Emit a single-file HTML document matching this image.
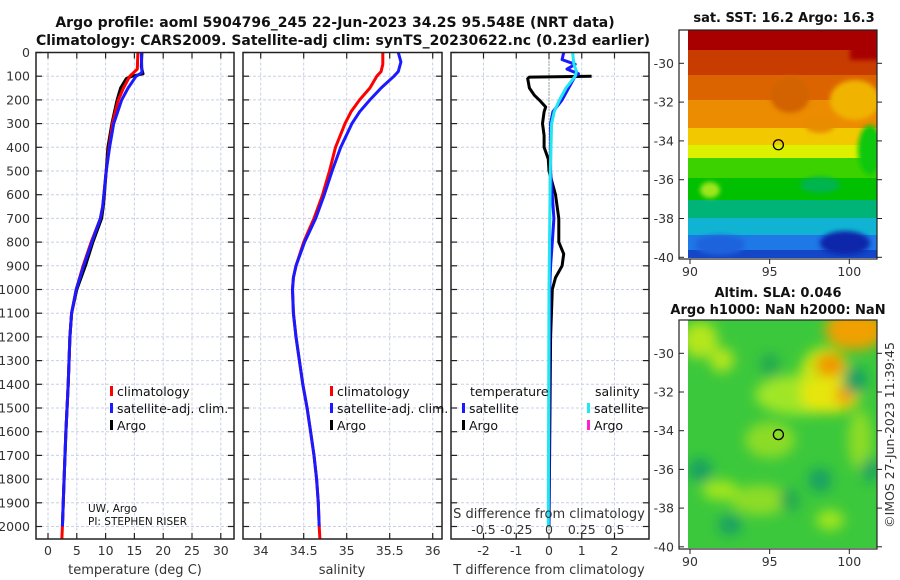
<!DOCTYPE html>
<html><head><meta charset="utf-8">
<style>
html,body{margin:0;padding:0;background:#fff;}
svg{display:block;font-family:"DejaVu Sans","Liberation Sans",sans-serif;}
</style></head>
<body>
<svg id="fig" width="900" height="580" viewBox="0 0 900 580" xmlns="http://www.w3.org/2000/svg">
<defs>
  <filter id="blur6" x="-50%" y="-50%" width="200%" height="200%"><feGaussianBlur stdDeviation="6"/></filter>
  <filter id="blur3" x="-50%" y="-50%" width="200%" height="200%"><feGaussianBlur stdDeviation="2.5"/></filter>
  <clipPath id="c1"><rect x="36" y="52" width="198" height="487"/></clipPath>
  <clipPath id="c2"><rect x="243" y="52" width="199" height="487"/></clipPath>
  <clipPath id="c3"><rect x="451" y="52" width="198" height="487"/></clipPath>
  <clipPath id="m1"><rect x="688" y="30" width="189" height="228"/></clipPath>
  <clipPath id="m2"><rect x="688" y="320" width="189" height="228"/></clipPath>
</defs>
<text x="335" y="27" text-anchor="middle" font-size="14" font-weight="bold" fill="#111">Argo profile: aoml 5904796_245 22-Jun-2023 34.2S 95.548E (NRT data)</text>
<text x="343" y="45" text-anchor="middle" font-size="14" font-weight="bold" fill="#111">Climatology: CARS2009. Satellite-adj clim: synTS_20230622.nc (0.23d earlier)</text>
<g id="layer"></g>
</svg>
<script>
// ---- data ----
const tClimDepth = [0,70,100,150,200,300,400,500,600,650,700,800,900,1000,1100,1200,1400,1600,1800,2000,2060];
const tClimVal   = [15.6,15.5,14.2,13.1,12.2,11.2,10.6,10.1,9.7,9.5,9.1,7.5,6.1,4.9,4.1,3.8,3.5,3.1,2.8,2.5,2.4];
const tSatDepth  = [0,85,100,150,200,300,400,500,600,650,700,800,900,1000,1100,1200,1400,1600,1800,2000];
const tSatVal    = [16.2,16.3,15.3,13.9,12.8,11.4,10.7,10.1,9.7,9.5,9.1,7.6,6.2,4.9,4.1,3.8,3.5,3.1,2.8,2.5];
const tArgoDepth = [0,60,90,100,110,150,200,300,400,500,600,650,700,800,900,1000,1100,1200,1400,1600,1800,2000];
const tArgoVal   = [16.3,16.2,16.5,14.6,13.6,12.6,12.0,11.1,10.4,10.1,9.8,9.6,9.3,7.8,6.5,5.0,4.1,3.8,3.5,3.1,2.8,2.5];
const sClimDepth = [0,50,80,100,150,200,250,300,400,500,600,700,800,900,950,1000,1100,1200,1300,1400,1500,1600,1700,1800,1900,2000,2060];
const sClimVal   = [35.42,35.42,35.4,35.35,35.27,35.15,35.05,34.98,34.87,34.8,34.72,34.62,34.5,34.41,34.38,34.37,34.38,34.41,34.45,34.49,34.54,34.58,34.62,34.65,34.67,34.68,34.69];
const sSatDepth  = [0,40,80,100,150,200,250,300,400,500,600,700,800,900,950,1000,1100,1200,1300,1400,1500,1600,1700,1800,1900,2000];
const sSatVal    = [35.6,35.63,35.6,35.55,35.4,35.27,35.15,35.06,34.93,34.83,34.74,34.64,34.51,34.41,34.38,34.37,34.38,34.41,34.45,34.49,34.54,34.58,34.62,34.65,34.67,34.68];
const dTArgoDepth= [100,104,110,150,180,200,230,250,300,350,400,450,500,600,700,800,850,900,950,1000,1200,1500,2000];
const dTArgoVal  = [1.3,-0.6,-0.65,-0.6,-0.45,-0.3,-0.1,-0.15,-0.2,-0.15,-0.15,-0.02,0,0.2,0.3,0.3,0.45,0.4,0.2,0.1,0.05,0.03,0];
const dTSatDepth = [0,30,50,70,90,100,150,200,250,300,500,700,800,900,1000,1500,2000];
const dTSatVal   = [0.45,0.4,0.8,0.55,0.9,0.8,0.6,0.4,0.12,0.05,0.05,0.15,0.1,0.05,0.02,0.01,0];
const dSSatDepth = [0,50,80,100,150,200,250,300,500,1000,2000];
const dSSatVal   = [0.18,0.19,0.21,0.2,0.13,0.08,0.04,0.02,0.01,0,-0.005];
const depthTicks = [0,100,200,300,400,500,600,700,800,900,1000,1100,1200,1300,1400,1500,1600,1700,1800,1900,2000];
const tempTicks  = [0,5,10,15,20,25,30];
const salTicks   = [34,34.5,35,35.5,36];
const salTickLabels = ['34','34.5','35','35.5','36'];
const dTTicks    = [-2,-1,0,1,2];
const dSTicks    = [-0.5,-0.25,0,0.25,0.5];
const dSTickLabels = ['-0.5','-0.25','0','0.25','0.5'];
const latTicks   = [-30,-32,-34,-36,-38,-40];
const lonTicks   = [90,95,100];
const floatLon = 95.548, floatLat = -34.2;

// ---- scales ----
const yD = d => 52.5 + d*0.237;
const xT = t => 48 + t*5.76;
const xS = s => 260.7 + (s-34)*86;
const xdT = v => 549 + v*32.75;
const xdS = v => 549 + v*131;
const mX = lon => 690 + (lon-90)*15.93;
const m1Y = lat => 63.3 + (-30-lat)*19.4;
const m2Y = lat => 353.3 + (-30-lat)*19.35;

const NS='http://www.w3.org/2000/svg';
const layer=document.getElementById('layer');
function mk(tag, attrs, parent){const e=document.createElementNS(NS,tag);for(const k in attrs)e.setAttribute(k,attrs[k]);(parent||layer).appendChild(e);return e;}
function txt(x,y,s,size,anchor,parent,fill){const e=mk('text',{x:x,y:y,'font-size':size,'text-anchor':anchor||'start',fill:fill||'#333'},parent);e.textContent=s;return e;}
function pathOf(depths, vals, fx){return depths.map((d,i)=>(i?'L':'M')+fx(vals[i]).toFixed(1)+','+yD(d).toFixed(1)).join(' ');}

const panels=[{x0:36,x1:234,clip:'c1',name:'temperature-panel'},{x0:243,x1:442,clip:'c2',name:'salinity-panel'},{x0:451,x1:649,clip:'c3',name:'difference-panel'}];
const yBot=539, yTop=52.5;
const pg=[];
panels.forEach((p,pi)=>{
  const g=mk('g',{});
  
  
  pg.push(g);
  depthTicks.forEach(d=>{
    const l=mk('line',{x1:p.x0,x2:p.x1,y1:yD(d),y2:yD(d),stroke:'#c9d0e6','stroke-width':1,'stroke-dasharray':'3,2'},g);
    
    
    mk('line',{x1:p.x0,x2:p.x0+6,y1:yD(d),y2:yD(d),stroke:'#222','stroke-width':1.2},g);
    mk('line',{x1:p.x1-6,x2:p.x1,y1:yD(d),y2:yD(d),stroke:'#222','stroke-width':1.2},g);
  });
});
depthTicks.forEach(d=>{
  const t=txt(30,yD(d)+4.5,String(d),12.5,'end');
  
  
});
function xGrid(g, vals, fx, labels, labY){
  vals.forEach((v,i)=>{
    const x=fx(v);
    const l=mk('line',{x1:x,x2:x,y1:yTop,y2:yBot,stroke:'#c9d0e6','stroke-width':1,'stroke-dasharray':'3,2'},g);
    
    
    mk('line',{x1:x,x2:x,y1:yBot-6,y2:yBot,stroke:'#222','stroke-width':1.2},g);
    mk('line',{x1:x,x2:x,y1:yTop,y2:yTop+6,stroke:'#222','stroke-width':1.2},g);
    if(labels){const t=txt(x,labY,labels[i],12.5,'middle',g);
      
      }
  });
}
xGrid(pg[0], tempTicks, xT, tempTicks.map(String), 555);
xGrid(pg[1], salTicks, xS, salTickLabels, 555);
xGrid(pg[2], dTTicks, xdT, dTTicks.map(String), 555);

const z=mk('line',{x1:xdT(0),x2:xdT(0),y1:yTop,y2:yBot,stroke:'#446633','stroke-width':1,'stroke-dasharray':'1,2'},pg[2]);



function series(g, clip, depths, vals, fx, color, w, name){
  const e=mk('path',{d:pathOf(depths,vals,fx),fill:'none',stroke:color,'stroke-width':w,'stroke-linejoin':'round','clip-path':'url(#'+clip+')'},g);
  
  
}
series(pg[0],'c1',tArgoDepth,tArgoVal,xT,'#000',3,'argo-temperature-line');
series(pg[0],'c1',tClimDepth,tClimVal,xT,'#ff0000',3,'climatology-temperature-line');
series(pg[0],'c1',tSatDepth,tSatVal,xT,'#1a1aff',3,'satellite-temperature-line');
series(pg[1],'c2',sClimDepth,sClimVal,xS,'#ff0000',3,'climatology-salinity-line');
series(pg[1],'c2',sSatDepth,sSatVal,xS,'#1a1aff',3,'satellite-salinity-line');
series(pg[2],'c3',dTArgoDepth,dTArgoVal,xdT,'#000',3,'argo-temperature-difference-line');
series(pg[2],'c3',dTSatDepth,dTSatVal,xdT,'#1a1aff',3,'satellite-temperature-difference-line');
series(pg[2],'c3',dSSatDepth,dSSatVal,xdS,'#22e6f0',3,'satellite-salinity-difference-line');

panels.forEach((p,pi)=>{
  const r=mk('rect',{x:p.x0,y:yTop,width:p.x1-p.x0,height:yBot-yTop,fill:'none',stroke:'#222','stroke-width':1.5},pg[pi]);
  
  
});

let a=txt(135,574,'temperature (deg C)',13,'middle');  
a=txt(342,574,'salinity',13,'middle');  
a=txt(549,574,'T difference from climatology',13,'middle');  
a=txt(549,518,'S difference from climatology',13,'middle');  
dSTicks.forEach((v,i)=>{const t=txt(xdS(v),534,dSTickLabels[i],12.5,'middle');
  
  });

function legItem(x,y,color,label){
  const g=mk('g',{});
  
  
  mk('rect',{x:x,y:y-10,width:3,height:10,fill:color},g);
  txt(x+7,y,label,12.5,'start',g,'#111');
}
legItem(110,396,'#ff0000','climatology');
legItem(110,413,'#1a1aff','satellite-adj. clim.');
legItem(110,430,'#000','Argo');
legItem(330,396,'#ff0000','climatology');
legItem(330,413,'#1a1aff','satellite-adj. clim.');
legItem(330,430,'#000','Argo');
a=txt(470,396,'temperature',12.5,'start',null,'#111');  
legItem(462,413,'#1a1aff','satellite');
legItem(462,430,'#000','Argo');
a=txt(595,396,'salinity',12.5,'start',null,'#111');  
legItem(587,413,'#22e6f0','satellite');
legItem(587,430,'#ff22cc','Argo');
a=txt(88,512,'UW, Argo',10.5,'start',null,'#111');  
a=txt(88,525,'PI: STEPHEN RISER',10.5,'start',null,'#111');  

function mapAxes(g, yf, y0, y1){
  latTicks.forEach(l=>{const y=yf(l);
    mk('line',{x1:679,x2:684,y1:y,y2:y,stroke:'#222'},g);
    mk('line',{x1:877,x2:882,y1:y,y2:y,stroke:'#222'},g);
    const t=txt(674,y+4.5,String(l),12.5,'end',g);  });
  lonTicks.forEach(l=>{const x=mX(l);
    mk('line',{x1:x,x2:x,y1:y1,y2:y1+5,stroke:'#222'},g);
    const t=txt(x,y1+17,String(l),12.5,'middle',g);  });
  const r=mk('rect',{x:679,y:y0,width:198,height:y1-y0,fill:'none',stroke:'#222','stroke-width':1.2},g);
   
}
const g1=mk('g',{});  
const t1=txt(784,22,'sat. SST: 16.2 Argo: 16.3',13,'middle',g1,'#111'); t1.setAttribute('font-weight','bold');  
const s1=mk('g',{'clip-path':'url(#m1)'},g1);
const bands=[[30,'#a80000'],[50,'#c83c00'],[75,'#dc6400'],[100,'#ec8c00'],[128,'#f2c800'],[145,'#dcf000'],[158,'#3cd200'],[178,'#00c000'],[200,'#00b478'],[218,'#10b4d2'],[235,'#1e78e6'],[250,'#1446c8']];
bands.forEach((b,i)=>{const h=(i<bands.length-1?bands[i+1][0]:260)-b[0];mk('rect',{x:688,y:b[0],width:190,height:h+1,fill:b[1]},s1);});
const bl=mk('g',{filter:'url(#blur3)'},s1);
mk('rect',{x:850,y:30,width:30,height:30,fill:'#a80000'},bl);
mk('ellipse',{cx:855,cy:100,rx:25,ry:20,fill:'#f0b400'},bl);
mk('ellipse',{cx:870,cy:150,rx:12,ry:25,fill:'#10c810'},bl);
mk('ellipse',{cx:710,cy:190,rx:10,ry:8,fill:'#9ee61e'},bl);
mk('ellipse',{cx:790,cy:95,rx:20,ry:18,fill:'#d26400'},bl);
mk('ellipse',{cx:820,cy:125,rx:15,ry:8,fill:'#e88c00'},bl);
mk('ellipse',{cx:845,cy:243,rx:25,ry:12,fill:'#0a28aa'},bl);
mk('ellipse',{cx:720,cy:245,rx:25,ry:10,fill:'#1e64dc'},bl);
mk('ellipse',{cx:820,cy:185,rx:20,ry:8,fill:'#00b450'},bl);
mk('circle',{cx:mX(floatLon),cy:m1Y(floatLat),r:5,fill:'none',stroke:'#000','stroke-width':1.3},g1);
mapAxes(g1,m1Y,30,259);
const g2=mk('g',{});  
let t2=txt(778,297,'Altim. SLA: 0.046',13,'middle',g2,'#111'); t2.setAttribute('font-weight','bold');  
t2=txt(778,314,'Argo h1000: NaN h2000: NaN',13,'middle',g2,'#111'); t2.setAttribute('font-weight','bold');  
const s2=mk('g',{'clip-path':'url(#m2)'},g2);
mk('rect',{x:688,y:320,width:190,height:229,fill:'#3cc83c'},s2);
const b2=mk('g',{filter:'url(#blur6)'},s2);
[[700,340,18,18,'#b4e61e'],[722,360,12,12,'#b4e61e'],[800,395,45,20,'#a0e628'],[825,375,25,28,'#c8e614'],[830,395,30,18,'#e6e60a'],[855,330,30,20,'#f0a000'],[830,365,15,12,'#f09600'],[845,395,10,10,'#f0a000'],[770,440,25,18,'#8cdc28'],[760,500,30,15,'#8cdc28'],[720,490,18,10,'#a0e61e'],[830,520,14,10,'#a0e61e'],[860,440,12,30,'#8cdc28']].forEach(e=>mk('ellipse',{cx:e[0],cy:e[1],rx:e[2],ry:e[3],fill:e[4]},b2));
[[700,470,12,12,'#14a064'],[730,525,12,10,'#14a064'],[855,380,12,14,'#14a064'],[820,480,12,12,'#14a064'],[870,470,8,12,'#14a064'],[790,500,10,12,'#20aa50'],[770,365,10,12,'#20aa50']].forEach(e=>mk('ellipse',{cx:e[0],cy:e[1],rx:e[2],ry:e[3],fill:e[4]},b2));
mk('circle',{cx:mX(floatLon),cy:m2Y(floatLat),r:5,fill:'none',stroke:'#000','stroke-width':1.3},g2);
mapAxes(g2,m2Y,320,549);
const cr=txt(0,0,'©IMOS 27-Jun-2023 11:39:45',12.5,'middle');
cr.setAttribute('transform','translate(894,435) rotate(-90)');


</script>
</body></html>
